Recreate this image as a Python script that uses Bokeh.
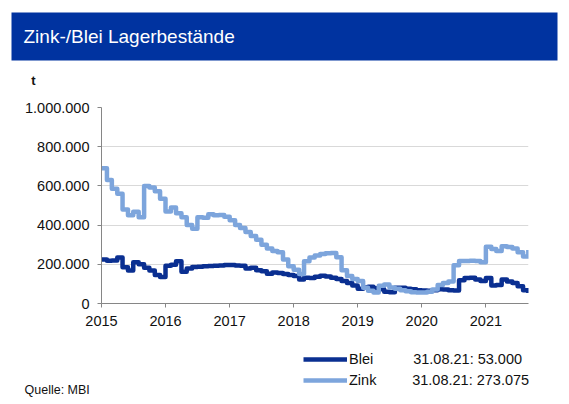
import pandas as pd

from bokeh.embed import file_html
from bokeh.layouts import column
from bokeh.models import (BoxAnnotation, CustomJSTickFormatter, DatetimeTickFormatter,
                          FixedTicker, Label, Legend, Range1d)
from bokeh.plotting import figure
from bokeh.resources import INLINE

# Monatswerte (Monatsanfang), letzter Wert 31.08.21, in 1000 t
months = list(pd.date_range("2015-01-01", "2021-08-01", freq="MS")) + [pd.Timestamp("2021-08-31")]

zink_kt = [
    690, 630, 585, 560, 480, 450, 468, 440, 600, 592, 573, 535,   # 2015
    470, 490, 460, 440, 400, 382, 440, 438, 455, 450, 452, 442,   # 2016
    425, 400, 385, 365, 345, 325, 300, 280, 268, 262, 225, 190,   # 2017
    172, 150, 215, 235, 245, 252, 256, 258, 236, 170, 140, 125,   # 2018
    115, 80, 65, 56, 90, 97, 82, 75, 67, 62, 57, 56,              # 2019
    56, 60, 72, 95, 105, 112, 195, 217, 217, 218, 217, 210,       # 2020
    290, 278, 268, 292, 288, 280, 262, 240, 273,                  # 2021
]
blei_kt = [
    225, 218, 220, 235, 185, 168, 210, 200, 183, 168, 145, 135,   # 2015
    192, 198, 215, 162, 178, 186, 188, 190, 191, 192, 194, 196,   # 2016
    196, 194, 192, 178, 183, 170, 165, 152, 158, 155, 151, 146,   # 2017
    140, 122, 132, 130, 137, 141, 138, 132, 125, 115, 105, 92,    # 2018
    75, 82, 85, 78, 73, 60, 58, 80, 80, 75, 73, 68,               # 2019
    66, 65, 68, 73, 72, 68, 66, 118, 130, 132, 122, 115,          # 2020
    130, 92, 95, 122, 112, 105, 88, 68, 53,                       # 2021
]
year_ticks = [2015, 2016, 2017, 2018, 2019, 2020, 2021]
y_ticks = [0, 200, 400, 600, 800, 1000]
last_blei = "31.08.21: 53.000"
last_zink = "31.08.21: 273.075"

FONT = "Liberation Sans"
BLUE_HEAD = "#0033A0"
C_BLEI = "#0A2F91"
C_ZINK = "#7DA5DC"
TXT = "#111111"


def text(fig, x, y, s, size, color=TXT, style="normal"):
    fig.add_layout(Label(x=x, y=y, text=s, text_font=FONT, text_font_size=size,
                         text_font_style=style, text_color=color, text_baseline="alphabetic"))


# ---- header: blue band + "t" (page y 0..95), coords in pixels from bottom-left ----
h = figure(width=569, height=95, x_range=Range1d(0, 569), y_range=Range1d(0, 95),
           toolbar_location=None, output_backend="svg", frame_align=False, min_border=0,
           x_axis_location=None, y_axis_location=None)
h.outline_line_color = None
h.grid.visible = False
h.add_layout(BoxAnnotation(left=11, right=557, bottom=35, top=83, fill_color=BLUE_HEAD,
                           fill_alpha=1, line_color=None))
text(h, 23, 59, "Zink-/Blei Lagerbestände", "19px", color="white")
text(h, 30.7, 15.5, "t", "13px", style="bold")

# ---- main chart (page y 95..340) ----
x0 = pd.Timestamp("2015-01-01")
x1 = pd.Timestamp("2021-09-01")
p = figure(width=569, height=245, x_axis_type="datetime",
           x_range=Range1d(x0, x1), y_range=Range1d(0, 1000),
           toolbar_location=None, output_backend="svg", frame_align=False,
           min_border_left=101, min_border_right=41, min_border_top=12, min_border_bottom=37)
p.outline_line_color = None
p.xgrid.visible = False
p.ygrid.grid_line_color = "#D9D9D9"

p.yaxis.ticker = FixedTicker(ticks=y_ticks)
p.yaxis.formatter = CustomJSTickFormatter(
    code="return (tick*1000).toFixed(0).replace(/\\B(?=(\\d{3})+(?!\\d))/g, '.');")
p.xaxis.ticker = FixedTicker(ticks=[pd.Timestamp(year=y, month=1, day=1).timestamp() * 1000
                                    for y in year_ticks])
p.xaxis.formatter = DatetimeTickFormatter(years="%Y", months="%Y", days="%Y", hours="%Y")

for ax in (p.xaxis, p.yaxis):
    ax.axis_line_color = "#868686"
    ax.major_tick_line_color = "#868686"
    ax.minor_tick_line_color = None
    ax.major_tick_in = 0
    ax.major_tick_out = 4
    ax.major_label_text_font = FONT
    ax.major_label_text_font_size = "14.5px"
    ax.major_label_text_color = TXT
    ax.major_label_standoff = 8

p.step(months, blei_kt, mode="after", line_color=C_BLEI, line_width=4.5, line_join="round")
p.step(months, zink_kt, mode="after", line_color=C_ZINK, line_width=4.5, line_join="round")

# ---- footer: legend, last values, source (page y 340..404) ----
f = figure(width=569, height=64, x_range=Range1d(0, 569), y_range=Range1d(0, 64),
           toolbar_location=None, output_backend="svg", frame_align=False, min_border=0,
           x_axis_location=None, y_axis_location=None)
f.outline_line_color = None
f.grid.visible = False
# same series, outside this panel's range: only their legend swatches show
k_blei = f.step(months, blei_kt, mode="after", line_color=C_BLEI, line_width=4.5)
k_zink = f.step(months, zink_kt, mode="after", line_color=C_ZINK, line_width=4.5)
legend = Legend(items=[("Blei", [k_blei]), ("Zink", [k_zink])], location=(303, 16),
                glyph_width=44, glyph_height=16, label_height=16, spacing=5, padding=0,
                margin=0, label_standoff=2, border_line_color=None, background_fill_alpha=0,
                label_text_font=FONT, label_text_font_size="14.5px", label_text_color=TXT)
f.add_layout(legend)
text(f, 412.7, 45.5, last_blei, "14.5px")
text(f, 411.7, 25, last_zink, "14.5px")
text(f, 24, 14.5, "Quelle: MBI", "12.5px")

layout = column(h, p, f, spacing=0)
open("out.html", "w").write(file_html(layout, INLINE))
